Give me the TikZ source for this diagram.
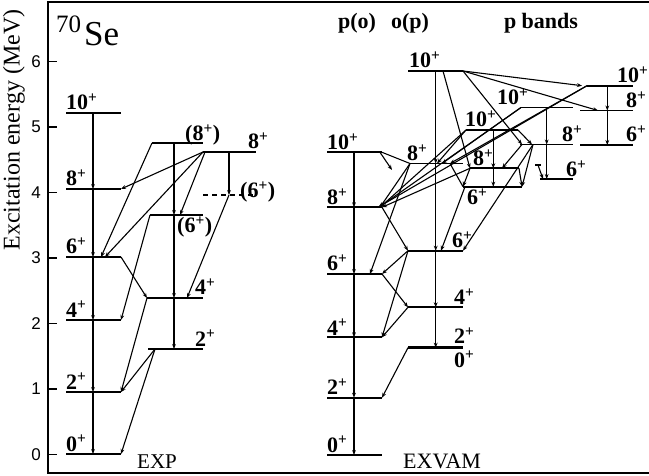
\documentclass[tikz,border=0pt]{standalone}
\usepackage{fontspec}
\setmainfont{Liberation Serif}
\setsansfont{Liberation Sans}
\usetikzlibrary{arrows.meta,calc}
\newcommand\lvl[5][]{\draw[lev,#1] (#3,#5) coordinate (#2-l) -- (#4,#5) coordinate (#2-r);}
\newcommand\spn[1]{#1\textsuperscript{+}}
\begin{document}
\begin{tikzpicture}[x=1pt,y=-1pt,
  lev/.style={line width=1.8pt},
  tr/.style={line width=1.1pt,-{Stealth[length=5pt,width=3.8pt]}},
  ln/.style={line width=1.1pt},
  lab/.style={font=\fontsize{22}{22}\selectfont\bfseries, inner sep=0pt},
  hd/.style={font=\fontsize{22}{22}\selectfont\bfseries, inner sep=0pt},
  tick/.style={font=\sffamily\fontsize{17}{17}\selectfont, inner sep=0pt, anchor=east},
]
\useasboundingbox (0,0) rectangle (649,476);
% frame
\draw[line width=1.8pt] (649,2) -- (48,2) coordinate (fr-tl) -- (48,473) coordinate (fr-bl) -- (649,473);
\foreach \v in {0,...,6} {
  \draw[line width=1.1pt] (48,454.5-65.5*\v) coordinate (tk\v) -- (57,454.5-65.5*\v);
  \node[tick] (tl\v) at (41,454.5-65.5*\v) {\v};
}
\node[rotate=90, font=\fontsize{24}{24}\selectfont, inner sep=0pt] (ylab) at (14,130) {Excitation energy (MeV)};
\node[anchor=base west, inner sep=0pt, font=\fontsize{25}{25}\selectfont] (nuc70) at (56,33) {70};
\node[anchor=base west, inner sep=0pt, font=\fontsize{35}{35}\selectfont] (nucSe) at (84,46) {Se};
\node[anchor=base west, inner sep=0pt, font=\fontsize{21}{21}\selectfont] (exp) at (137,468) {EXP};
\node[anchor=base west, inner sep=0pt, font=\fontsize{22}{22}\selectfont] (exvam) at (403,468) {EXVAM};
\node[hd] (hpo) at (357,23) {p(o)};
\node[hd] (hop) at (410,23) {o(p)};
\node[hd] (hpb) at (541,23) {p bands};

% ---------------- EXP levels
\lvl{e0}{66}{121}{454}
\lvl{e2}{66}{121}{392}
\lvl{e4}{66}{121}{320}
\lvl{e6}{66}{121}{257}
\lvl{e8}{66}{121}{189}
\lvl{e10}{66}{121}{113}
\lvl{g2}{148}{203}{349}
\lvl{g4}{147}{203}{298}
\lvl{g6}{150}{203}{215}
\lvl{g8}{152}{203}{143}
\lvl{h8}{203}{256}{152}
\lvl[dashed,dash pattern=on 5pt off 4pt,line width=1.3pt]{h6}{203}{256}{195}

\node[lab,anchor=base west] (le0) at (66,451) {\spn{0}};
\node[lab,anchor=base west] (le2) at (66,389) {\spn{2}};
\node[lab,anchor=base west] (le4) at (66,317) {\spn{4}};
\node[lab,anchor=base west] (le6) at (66,254) {\spn{6}};
\node[lab,anchor=base west] (le8) at (66,186) {\spn{8}};
\node[lab,anchor=base west] (le10) at (66,110) {\spn{10}};
\node[lab,anchor=base west] (lg2) at (195,346) {\spn{2}};
\node[lab,anchor=base west] (lg4) at (195,295) {\spn{4}};
\node[lab,anchor=base west] (lg6) at (177,233) {(\spn{6})};
\node[lab,anchor=base west] (lg8) at (185,141) {(\spn{8})};
\node[lab,anchor=base west] (lh8) at (248,149) {\spn{8}};
\node[lab,anchor=base west] (lh6) at (240,198) {(\spn{6})};

\coordinate (vc1) at (93,0);
\coordinate (vc2) at (174,0);
\coordinate (vc3) at (229,0);
\draw[tr] (vc1|-e10-l) -- (vc1|-e8-l);
\draw[tr] (vc1|-e8-l) -- (vc1|-e6-l);
\draw[tr] (vc1|-e6-l) -- (vc1|-e4-l);
\draw[tr] (vc1|-e4-l) -- (vc1|-e2-l);
\draw[tr] (vc1|-e2-l) -- (vc1|-e0-l);
\draw[tr] (vc2|-g8-l) -- (vc2|-g6-l);
\draw[tr] (vc2|-g6-l) -- (vc2|-g4-l);
\draw[tr] (vc2|-g4-l) -- (vc2|-g2-l);
\draw[tr] (vc3|-h8-l) -- (vc3|-h6-l);

\draw[tr] (g8-l) -- ([xshift=-20pt]e6-r);
\draw[tr] (h8-l) -- (e8-r);
\draw[tr] (h8-l) -- ([xshift=-16pt]e6-r);
\draw[tr] ([xshift=2pt]h8-l) -- ([xshift=-23pt]g6-r);
\draw[tr] (vc3|-h6-l) -- ([xshift=-16pt]g4-r);
\draw[tr] (g6-l) -- (e4-r);
\draw[tr] (e6-r) -- (g4-l);
\draw[tr] (g4-l) -- (e2-r);
\draw[tr] ([xshift=7pt]g2-l) -- (e2-r);
\draw[tr] ([xshift=7pt]g2-l) -- (e0-r);

% ---------------- EXVAM levels
\lvl{p0}{327}{382}{455}
\lvl{p2}{327}{382}{397.7}
\lvl{p4}{327}{382}{337.3}
\lvl{p6}{327}{382}{274}
\lvl{p8}{327}{382}{207.3}
\lvl{p10}{327}{382}{152.3}
\lvl{o10}{408}{463}{71}
\lvl{o8}{410}{463}{163.5}
\lvl{o6}{408}{463}{250.7}
\lvl{o4}{408}{463}{307.3}
\lvl[line width=2.4pt]{o2}{408}{463}{347.7}
\lvl{a10}{466}{518}{130}
\lvl{a8}{470}{519}{168.3}
\lvl{a6}{463}{522}{186.7}
\lvl{b10}{521}{573}{107.5}
\lvl{b8}{520}{573}{144.5}
\lvl{b6}{540}{573}{179}
\lvl{c10}{587}{633}{85.7}
\lvl{c8}{580}{633}{110.5}
\lvl{c6}{580}{633}{145}

\node[lab,anchor=base west] (lp0) at (327,452) {\spn{0}};
\node[lab,anchor=base west] (lp2) at (327,395) {\spn{2}};
\node[lab,anchor=base west] (lp4) at (327,335) {\spn{4}};
\node[lab,anchor=base west] (lp6) at (327,271) {\spn{6}};
\node[lab,anchor=base west] (lp8) at (327,205) {\spn{8}};
\node[lab,anchor=base west] (lp10) at (327,150) {\spn{10}};
\node[lab,anchor=base west] (lo10) at (409,68) {\spn{10}};
\node[lab,anchor=base west] (lo8) at (407,161) {\spn{8}};
\node[lab,anchor=base west] (lo6) at (452,248) {\spn{6}};
\node[lab,anchor=base west] (lo4) at (454,305) {\spn{4}};
\node[lab,anchor=base west] (lo2) at (454,344) {\spn{2}};
\node[lab,anchor=base west] (lo0) at (454,367) {\spn{0}};
\node[lab,anchor=base west] (la10) at (465,127) {\spn{10}};
\node[lab,anchor=base west] (la8) at (473,166) {\spn{8}};
\node[lab,anchor=base west] (la6) at (467,205) {\spn{6}};
\node[lab,anchor=base west] (lb10) at (497,105) {\spn{10}};
\node[lab,anchor=base west] (lb8) at (562,142) {\spn{8}};
\node[lab,anchor=base west] (lb6) at (566,177) {\spn{6}};
\node[lab,anchor=base west] (lc10) at (617,83) {\spn{10}};
\node[lab,anchor=base west] (lc8) at (626,108) {\spn{8}};
\node[lab,anchor=base west] (lc6) at (626,142) {\spn{6}};

\coordinate (vp) at (354,0);
\coordinate (vo) at (435.7,0);
\coordinate (va) at (493.3,0);
\coordinate (vb) at (546.7,0);
\coordinate (vcc) at (607.3,0);
\draw[tr] (vp|-p10-l) -- (vp|-p8-l);
\draw[tr] (vp|-p8-l) -- (vp|-p6-l);
\draw[tr] (vp|-p6-l) -- (vp|-p4-l);
\draw[tr] (vp|-p4-l) -- (vp|-p2-l);
\draw[tr] (vp|-p2-l) -- (vp|-p0-l);
\draw[tr] (vo|-o10-l) -- (vo|-o8-l);
\draw[tr] (vo|-o8-l) -- (vo|-o6-l);
\draw[tr] (vo|-o6-l) -- (vo|-o4-l);
\draw[tr] (vo|-o4-l) -- (vo|-o2-l);
\draw[tr] (va|-a10-l) -- (va|-a8-l);
\draw[tr] (va|-a8-l) -- (va|-a6-l);
\draw[tr] (vb|-b10-l) -- (vb|-b8-l);
\draw[tr] (vb|-b8-l) -- (vb|-b6-l);
\draw[tr] (vcc|-c10-l) -- (vcc|-c8-l);
\draw[tr] (vcc|-c8-l) -- (vcc|-c6-l);

\coordinate (stub1) at (392,170);
\coordinate (bar2) at (538,165);
\coordinate (stub2) at (543,179);
\draw[ln] (p10-r) -- (o8-l);
\draw[tr] ([xshift=-2pt]p10-r) -- (stub1);
\draw[tr] (p8-r) -- (o6-l);
\draw[tr] (o6-l) -- (p6-r);
\draw[tr] (p6-r) -- (o4-l);
\draw[tr] (o4-l) -- (p4-r);
\draw[tr] (o6-l) -- (p4-r);
\draw[tr] (o8-l) -- ([xshift=-12pt]p6-r);
\draw[tr] (o8-l) -- ([xshift=-2pt]p8-r);
\draw[tr] (o2-l) -- (p2-r);
\draw[tr] ([xshift=35pt]o10-l) -- (a8-l);
\draw[tr] (o10-r) -- ([xshift=2pt]b8-l);
\draw[tr] (o10-r) -- ([xshift=18pt]c8-l);
\draw[tr] (o10-r) -- ([xshift=-5pt]c10-l);
\draw[tr] (a10-r) -- ([xshift=12pt]b8-l);
\draw[tr] (c10-l) -- ([xshift=-4pt]p8-r);
\draw[tr] (c10-l) -- ([xshift=-13pt]o8-r);
\draw[tr] (b10-l) -- ([xshift=-3pt]p8-r);
\draw[tr] (b10-l) -- ([xshift=32pt]o8-l);
\draw[tr] (a10-l) -- ([xshift=-2pt]p8-r);
\draw[tr] (a10-l) -- ([xshift=27pt]o8-l);
\draw[tr] (a8-l) -- (p8-r);
\draw[ln] ([xshift=-13pt]o8-r) -- (a6-l);
\draw[tr] (a8-l) -- (a6-l);
\draw[tr] ([xshift=2pt]a6-l) -- ([xshift=33pt]o6-l);
\draw[tr] ([xshift=2pt]b8-l) -- ([xshift=32pt]a8-l);
\draw[tr] (a8-r) -- (a6-r);
\draw[tr] ([xshift=13pt]b8-l) -- (a6-r);
\draw[tr] ([xshift=13pt]b8-l) -- (o6-r);
\draw[ln] ([xshift=-3pt]bar2) -- ([xshift=3pt]bar2);
\draw[tr] (bar2) -- (stub2);
\end{tikzpicture}
\end{document}
